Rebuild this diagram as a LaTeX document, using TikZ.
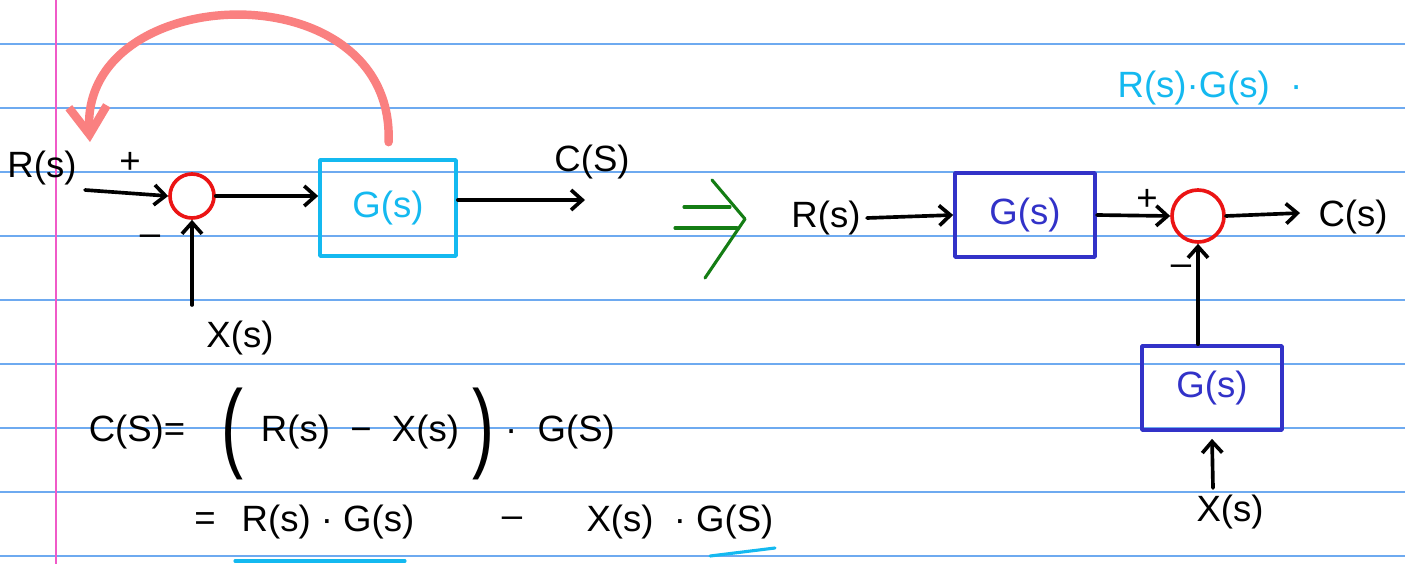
\documentclass[tikz,border=0pt]{standalone}
\usepackage{fontspec}
\setmainfont{Liberation Sans}
\usetikzlibrary{arrows.meta}
\definecolor{ruleblue}{RGB}{110,170,240}
\definecolor{marginpink}{RGB}{240,90,200}
\definecolor{skyblue}{RGB}{20,185,240}
\definecolor{penblue}{RGB}{50,50,200}
\definecolor{sumred}{RGB}{235,20,20}
\definecolor{salmon}{RGB}{250,128,128}
\definecolor{pengreen}{RGB}{20,125,20}
\newcommand{\tallparen}[1]{\scalebox{0.9}[1.35]{\fontsize{52}{52}\selectfont #1}}
\begin{document}
\begin{tikzpicture}[>={Straight Barb[length=0.28cm,width=0.5cm]}, line width=2.6pt, line cap=round, line join=round, x=0.025cm, y=-0.025cm,
	every node/.style={font=\fontsize{26}{30}\selectfont},
	sumcirc/.style={draw=sumred, circle, inner sep=0pt},
	gbox/.style={draw, inner sep=0pt, minimum width=3.5cm, minimum height=2.1cm},
	ruled/.style={draw=ruleblue, line width=0.9pt},
	feedback/.style={draw=salmon, line width=6pt, -{Straight Barb[length=0.7cm,width=0.95cm]}},
	implies/.style={draw=pengreen, line width=2.2pt},
	mark line/.style={draw=skyblue, line width=2.2pt}]
	\useasboundingbox (0,0) rectangle (1405,564);
	\fill[white] (0,0) rectangle (1405,564);
	
	% Heftlinien
	\foreach \y in {44,108,...,556}
	\draw[ruled] (0,\y) -- (1405,\y);
	\draw[draw=marginpink, line width=1.2pt] (56,0) -- (56,564);
	
	% linker Regelkreis
	\node (R1) at (42,168) {R(s)};
	\node (plus1) at (130,163) {+};
	\node (minus1) at (150,240) {–};
	\node[sumcirc, minimum size=1.1cm] (sum1) at (192,196) {};
	\node[gbox, draw=skyblue, minimum width=3.4cm, minimum height=2.4cm, text=skyblue] (g1) at (388,208) {G(s)};
	\node (X1) at (240,338) {X(s)};
	\node (C1) at (592,162) {C(S)};
	\coordinate (rin) at (85,190);
	\coordinate (xin1) at (192,305);
	\coordinate (cout1) at (585,200);
	\coordinate (fbend) at (90,142);
	
	\draw[->] (rin) -- (sum1.west);
	\draw[->] (xin1) -- (sum1.south);
	\draw[->] (sum1.east) -- (sum1.east -| g1.west);
	\draw[->] (cout1 -| g1.east) -- (cout1);
	\draw[feedback, shorten <=0.4cm] (g1.north) .. controls (395,-32) and (80,-20) .. (fbend);
	
	% Folgepfeil
	\draw[implies] (684,207) -- (730,207);
	\draw[implies] (675,228) -- (737,228);
	\draw[implies] (712,180) -- (745,219) -- (705,278);
	
	% rechter Regelkreis
	\node (R2) at (826,218) {R(s)};
	\node[gbox, draw=penblue, text=penblue] (g2) at (1025,215) {G(s)};
	\node (plus2) at (1147,200) {+};
	\node[sumcirc, minimum size=1.3cm] (sum2) at (1198,216) {};
	\node (minus2) at (1181,270) {–};
	\node (C2) at (1353,217) {C(s)};
	\node[gbox, draw=penblue, text=penblue] (g3) at (1212,388) {G(s)};
	\node (X2) at (1230,512) {X(s)};
	\node[text=skyblue] (note) at (1210,88) {R(s)·G(s) \ ·};
	\coordinate (cout2) at (1300,213);
	\coordinate (xin2) at (1213,488);
	
	\draw[->] (R2.east) -- (g2.west);
	\draw[->] (g2.east) -- (sum2.west);
	\draw[->] (sum2.east) -- (cout2);
	\draw[->] (g3.north -| sum2.south) -- (sum2.south);
	\draw[->] (xin2) -- ([yshift=-5pt]g3.south);
	
	% Gleichungen
	\node (eq1a) at (137,432) {C(S)=};
	\node (eq1b) at (232,434) {\tallparen{(}};
	\node (eq1c) at (360,432) {R(s) \ − \ X(s)};
	\node (eq1d) at (483,434) {\tallparen{)}};
	\node (eq1e) at (560,432) {· \ G(S)};
	\node (eq2a) at (205,522) {=};
	\node (eq2b) at (328,522) {R(s) · G(s)};
	\node (eq2c) at (512,522) {–};
	\node (eq2d) at (680,522) {X(s) \ · G(S)};
	\draw[mark line] (235,561) -- (405,561);
	\draw[mark line] (710,556) -- (775,548);
\end{tikzpicture}
\end{document}
